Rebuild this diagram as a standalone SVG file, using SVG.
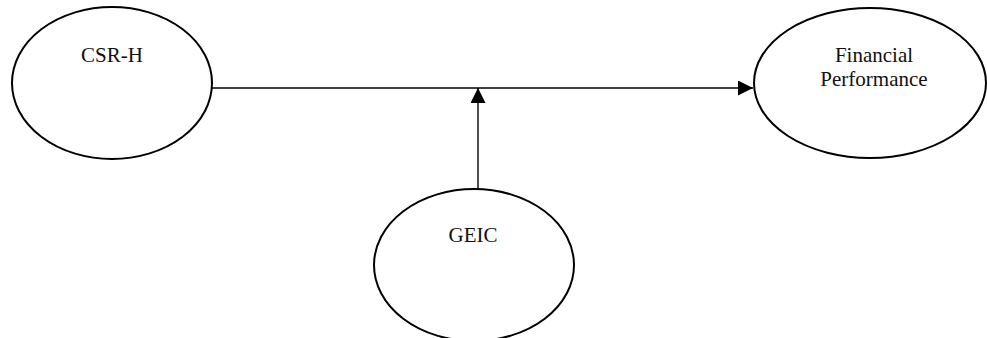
<svg xmlns="http://www.w3.org/2000/svg" width="987" height="338" viewBox="0 0 987 338">
<style>
.node ellipse{fill:#fff;stroke:#000;stroke-width:2}
.node text{font-family:"Liberation Serif","Times New Roman",serif;font-size:21px;fill:#111;text-anchor:middle}
.conn line{stroke:#000;stroke-width:1.4}
</style>
<defs>
<marker id="ah" markerWidth="15" markerHeight="15" refX="15" refY="7.5" orient="auto" markerUnits="userSpaceOnUse">
<path d="M0,0 L15,7.5 L0,15 Z" fill="#000"/>
</marker>
</defs>
<rect width="987" height="338" fill="#fff"/>
<g id="csr-h" class="node">
<ellipse cx="112" cy="83" rx="100" ry="76"/>
<text x="112" y="62">CSR-H</text>
</g>
<g id="financial-performance" class="node">
<ellipse cx="870" cy="83" rx="116" ry="75"/>
<text x="874" y="62">Financial</text>
<text x="874" y="86">Performance</text>
</g>
<g id="geic" class="node">
<ellipse cx="474" cy="265" rx="100" ry="76"/>
<text x="473" y="242">GEIC</text>
</g>
<g id="connectors" class="conn">
<line x1="212" y1="88" x2="753" y2="88" marker-end="url(#ah)"/>
<line x1="478" y1="189" x2="478" y2="88" marker-end="url(#ah)"/>
</g>
</svg>
